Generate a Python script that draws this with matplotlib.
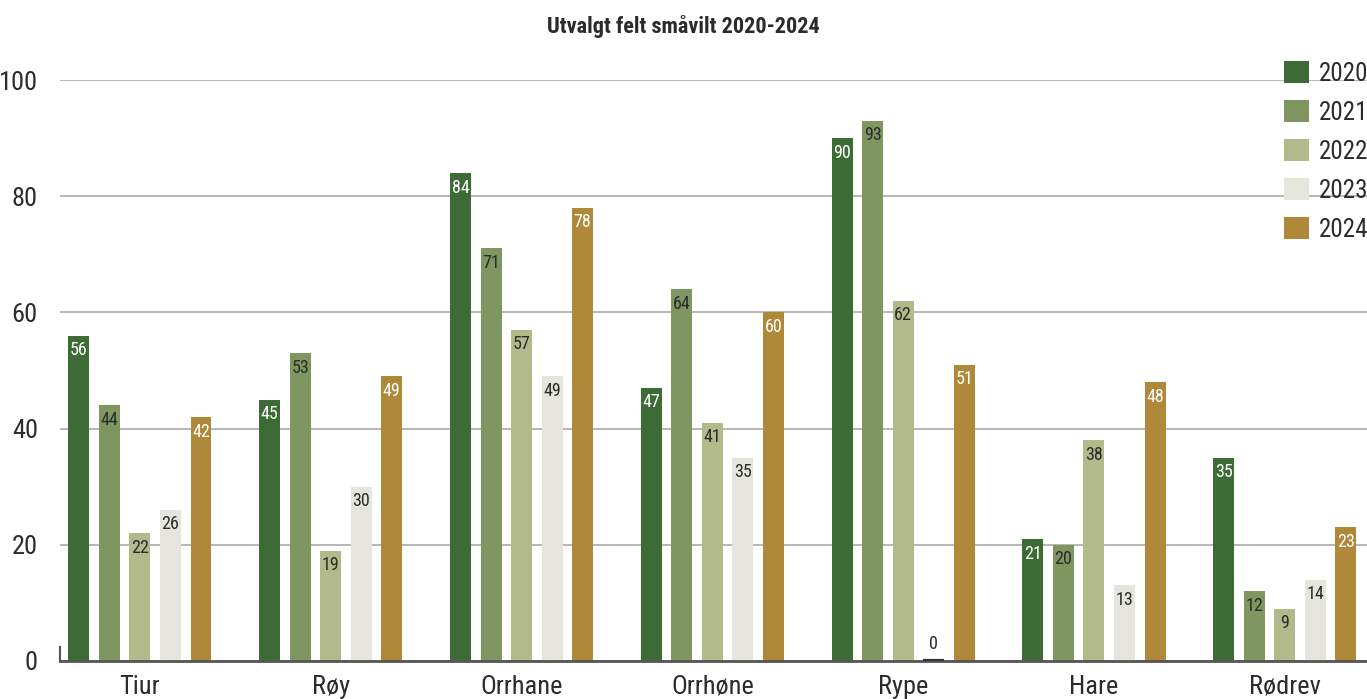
import matplotlib.pyplot as plt
import numpy as np

categories = ["Tiur", "Røy", "Orrhane", "Orrhøne", "Rype", "Hare", "Rødrev"]
years = ["2020", "2021", "2022", "2023", "2024"]
v2020 = [56, 45, 84, 47, 90, 21, 35]
v2021 = [44, 53, 71, 64, 93, 20, 12]
v2022 = [22, 19, 57, 41, 62, 38, 9]
v2023 = [26, 30, 49, 35, 0, 13, 14]
v2024 = [42, 49, 78, 60, 51, 48, 23]

colors = ["#3d6b35", "#7f9661", "#b2b98a", "#e5e5de", "#b0883a"]
label_colors = ["white", "#2b2b2b", "#2b2b2b", "#2b2b2b", "white"]

plt.rcParams['font.family'] = ['Roboto Condensed', 'Liberation Sans Narrow', 'DejaVu Sans']
plt.rcParams['font.stretch'] = 'condensed'
txt = "#2b2b2b"

fig = plt.figure(figsize=(13.67, 6.99), dpi=100)
ax = fig.add_axes([60/1367, 1-661/699, 1-60/1367, (661-80)/699])

x = np.arange(len(categories))
pitch = 0.16
width = 0.11
series = [v2020, v2021, v2022, v2023, v2024]

for i, vals in enumerate(series):
    pos = x + (i - 2)*pitch
    ax.bar(pos, vals, width, color=colors[i], label=years[i], zorder=3)
    for px, v in zip(pos, vals):
        if v == 0:
            # zero bar: put the label just above the baseline
            ax.annotate(str(v), (px, 0), xytext=(0, 6), textcoords='offset points',
                        ha='center', va='bottom', fontsize=13, color=txt, zorder=4)
            ax.plot([px - width/2, px + width/2], [0, 0], color='#333333',
                    linewidth=3, zorder=6, solid_capstyle='butt')
        else:
            ax.annotate(str(v), (px, v), xytext=(0, -4), textcoords='offset points',
                        ha='center', va='top', fontsize=13, color=label_colors[i], zorder=4)

ax.set_xlim(-0.419, 6.431)
ax.set_ylim(0, 100)
ax.set_yticks([0, 20, 40, 60, 80, 100])
ax.set_xticks(x)
ax.set_xticklabels(categories)
ax.tick_params(axis='y', length=0, pad=16, labelsize=19, labelcolor=txt)
ax.tick_params(axis='x', length=0, pad=10, labelsize=19, labelcolor=txt)
ax.grid(axis='y', color='#aaaaaa', linewidth=1.2, zorder=0)
ax.set_axisbelow(True)

for s in ['top', 'right']:
    ax.spines[s].set_visible(False)
ax.spines['bottom'].set_color('#555555')
ax.spines['bottom'].set_linewidth(2)
ax.spines['bottom'].set_zorder(5)
ax.spines['left'].set_bounds(0, 2.4)
ax.spines['left'].set_color('#555555')
ax.spines['left'].set_linewidth(1.5)

leg = ax.legend(loc='upper right', bbox_to_anchor=(1.009, 1.05), frameon=False,
                fontsize=18, handlelength=1.0, handleheight=1.0, labelspacing=0.57,
                handletextpad=0.4, borderaxespad=0)
for t in leg.get_texts():
    t.set_color(txt)

fig.text(0.5, 1-26/699, "Utvalgt felt småvilt 2020-2024", ha='center', va='center',
         fontsize=16, fontweight='bold', color=txt)

fig.savefig("out.png", dpi=100)
